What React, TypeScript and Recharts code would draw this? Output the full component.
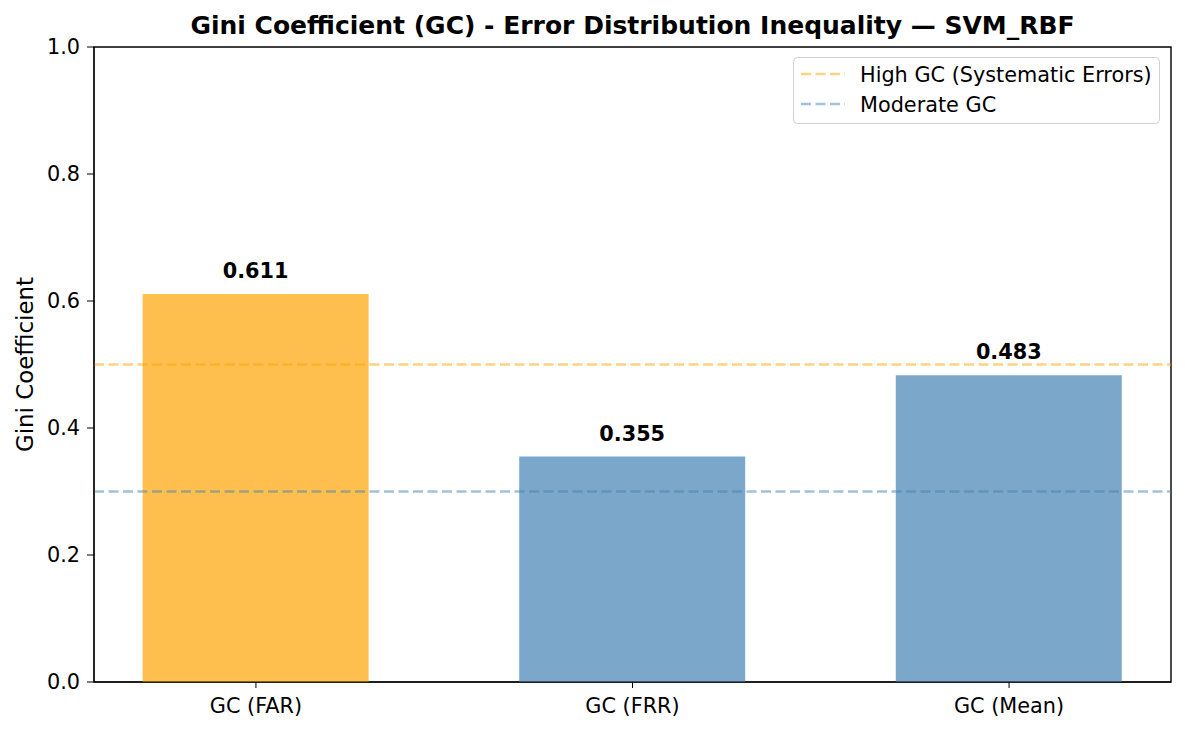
import React from 'react'
import { BarChart, Bar, XAxis, YAxis, Cell, LabelList, ReferenceLine, ReferenceArea } from 'recharts'

// data
const CATEGORIES = ['GC (FAR)', 'GC (FRR)', 'GC (Mean)']
const GC_VALUES = [0.611, 0.355, 0.483]
const Y_TICKS = [0, 0.2, 0.4, 0.6, 0.8, 1.0]
const HIGH_GC = 0.5
const MODERATE_GC = 0.3

const ORANGE_BAR = '#FFBF4F'
const BLUE_BAR = '#7BA7CB'
const FONT = '"DejaVu Sans", sans-serif'
const X_DOMAIN: [number, number] = [-0.43, 2.43]

const data = CATEGORIES.map((name, i) => ({ idx: i, name, value: GC_VALUES[i] }))

const tickStyle = { fill: '#000', fontSize: 20.8, fontFamily: FONT }

export default function App() {
  return (
    <div style={{ position: 'absolute', left: 0, top: 0, width: 1185, height: 732, background: '#fff' }}>
      <BarChart
        width={1185}
        height={732}
        data={data}
        margin={{ top: 47, right: 14, bottom: 20, left: 24 }}
      >
        <XAxis
          dataKey="idx"
          type="number"
          domain={X_DOMAIN}
          ticks={[0, 1, 2]}
          tickFormatter={(v: number) => CATEGORIES[v] ?? ''}
          allowDataOverflow
          height={30}
          tickSize={6}
          tickMargin={10}
          stroke="#000"
          tick={tickStyle}
        />
        <YAxis
          type="number"
          domain={[0, 1]}
          ticks={Y_TICKS}
          tickFormatter={(v: number) => v.toFixed(1)}
          width={70}
          tickSize={7}
          tickMargin={7}
          stroke="#000"
          tick={tickStyle}
        />
        <Bar dataKey="value" barSize={226} isAnimationActive={false}>
          {data.map((d, i) => (
            <Cell key={i} fill={d.value > HIGH_GC ? ORANGE_BAR : BLUE_BAR} />
          ))}
          <LabelList
            dataKey="value"
            position="top"
            offset={16}
            formatter={(v: number) => v.toFixed(3)}
            style={{ fontWeight: 'bold', fontSize: 20.8, fill: '#000', fontFamily: FONT }}
          />
        </Bar>
        <ReferenceLine y={HIGH_GC} stroke="orange" strokeOpacity={0.5} strokeWidth={2.5} strokeDasharray="10 4.5" />
        <ReferenceLine y={MODERATE_GC} stroke="steelblue" strokeOpacity={0.5} strokeWidth={2.5} strokeDasharray="10 4.5" />
        <ReferenceArea x1={X_DOMAIN[0]} x2={X_DOMAIN[1]} y1={0} y2={1} fill="none" stroke="#000" strokeWidth={1.4} />
      </BarChart>

      {/* title, axis label and legend drawn on top */}
      <svg width={1185} height={732} style={{ position: 'absolute', left: 0, top: 0, pointerEvents: 'none' }} fontFamily={FONT}>
        <text x={632.5} y={34} textAnchor="middle" fontWeight="bold" fontSize={25} fill="#000">
          Gini Coefficient (GC) - Error Distribution Inequality — SVM_RBF
        </text>
        <text transform="rotate(-90)" x={-364.5} y={33} textAnchor="middle" fontSize={22.9} fill="#000">
          Gini Coefficient
        </text>
        <g transform="translate(793,57)">
          <rect x={0.5} y={0.5} width={366} height={66} rx={4} fill="#fff" fillOpacity={0.8} stroke="#d0d0d0" />
          <line x1={8} x2={52} y1={17} y2={17} stroke="orange" strokeOpacity={0.5} strokeWidth={2.5} strokeDasharray="10 4.5" />
          <text x={67} y={25} fontSize={20.8} fill="#000">High GC (Systematic Errors)</text>
          <line x1={8} x2={52} y1={47} y2={47} stroke="steelblue" strokeOpacity={0.5} strokeWidth={2.5} strokeDasharray="10 4.5" />
          <text x={67} y={55} fontSize={20.8} fill="#000">Moderate GC</text>
        </g>
      </svg>
    </div>
  )
}
